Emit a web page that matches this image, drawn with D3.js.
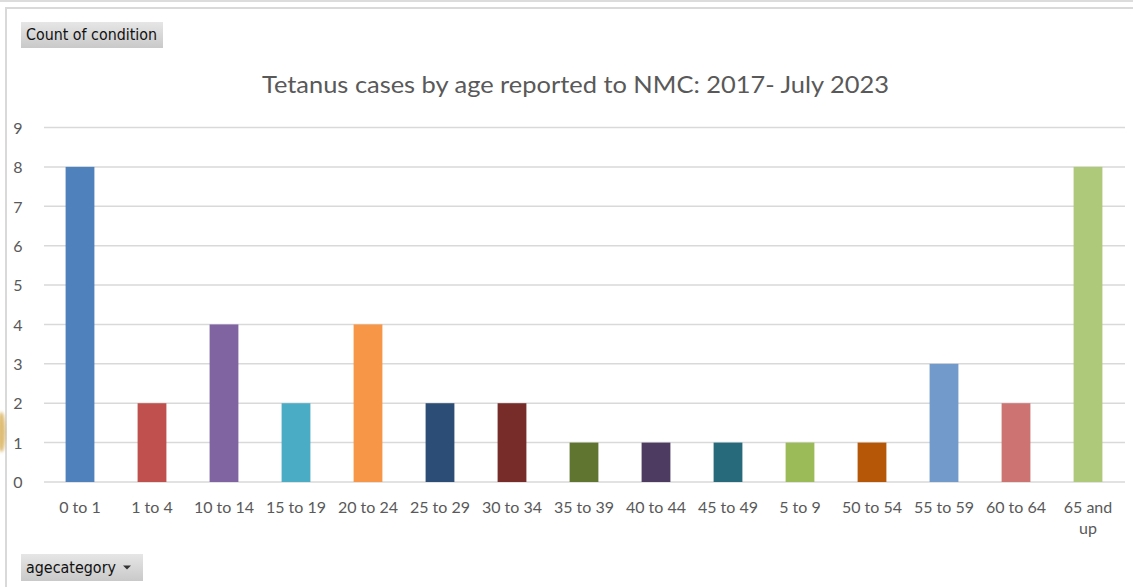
<!DOCTYPE html>
<html>
<head>
<meta charset="utf-8">
<script src="https://cdn.jsdelivr.net/npm/d3@7"></script>
<style>
  html, body { margin: 0; padding: 0; background: #fff; }
  svg { display: block; }
</style>
</head>
<body>
<svg id="chart" width="1133" height="587"></svg>
<script>
// Age groups in pivot order, case counts, and the fill of each column
const categories = ["0 to 1", "1 to 4", "10 to 14", "15 to 19", "20 to 24", "25 to 29", "30 to 34",
  "35 to 39", "40 to 44", "45 to 49", "5 to 9", "50 to 54", "55 to 59", "60 to 64", "65 and up"];
const counts = [8, 2, 4, 2, 4, 2, 2, 1, 1, 1, 1, 1, 3, 2, 8];
const colors = ["#4f81bd", "#c0504d", "#8064a2", "#4bacc6", "#f79646", "#2c4d75", "#772c2a",
  "#5f7530", "#4d3b62", "#276a7c", "#9bbb59", "#b65708", "#729aca", "#cd7371", "#afc97a"];
const yTicks = [0, 1, 2, 3, 4, 5, 6, 7, 8, 9];
const titleText = "Tetanus cases by age reported to NMC: 2017- July 2023";

const svg = d3.select("#chart");
const font = "Lato, 'Open Sans', sans-serif";
const textGray = "#595959";

// Outer frame lines
svg.append("rect").attr("x", 0).attr("y", 0).attr("width", 1133).attr("height", 2).attr("fill", "#dcdcdc");
svg.append("rect").attr("x", 5).attr("y", 7).attr("width", 1128).attr("height", 2).attr("fill", "#d9d9d9");
svg.append("rect").attr("x", 5).attr("y", 7).attr("width", 2).attr("height", 580).attr("fill", "#d9d9d9");

// Faint decoration peeking in at the left edge
const defs = svg.append("defs");
defs.append("filter").attr("id", "soft").append("feGaussianBlur").attr("stdDeviation", 1.8);
svg.append("ellipse").attr("cx", 1.5).attr("cy", 432).attr("rx", 4).attr("ry", 20)
  .attr("fill", "#d4a84a").attr("opacity", 0.75).attr("filter", "url(#soft)");

// Scales
const x = d3.scaleBand().domain(categories).range([44, 1124]).paddingInner(0.6).paddingOuter(0.3);
const y = d3.scaleLinear().domain([0, 9]).range([482, 127.5]);

// Horizontal gridlines
svg.append("g").selectAll("line").data(yTicks).join("line")
  .attr("x1", 44).attr("x2", 1125)
  .attr("y1", d => y(d)).attr("y2", d => y(d))
  .attr("stroke", "#d9d9d9").attr("stroke-width", 1.5);

// Y axis labels
const yAxis = svg.append("g").attr("transform", "translate(18,0)")
  .call(d3.axisLeft(y).tickValues(yTicks).tickSize(0).tickPadding(0));
yAxis.select(".domain").remove();
yAxis.selectAll("text")
  .style("fill", textGray).style("font-family", font).style("font-size", "16px")
  .attr("text-anchor", "middle").attr("x", 0).attr("dy", "0.36em");

// Columns
svg.append("g").selectAll("rect").data(categories).join("rect")
  .attr("x", d => x(d))
  .attr("width", x.bandwidth())
  .attr("y", (d, i) => y(counts[i]))
  .attr("height", (d, i) => y(0) - y(counts[i]))
  .attr("fill", (d, i) => colors[i]);

// X axis labels (long labels wrap onto two lines)
const xAxis = svg.append("g").attr("transform", "translate(0,482)")
  .call(d3.axisBottom(x).tickSize(0).tickPadding(0));
xAxis.select(".domain").remove();
xAxis.selectAll("text").each(function (d) {
  const t = d3.select(this).text("")
    .style("fill", textGray).style("font-family", font).style("font-size", "16px")
    .attr("y", 31).attr("dy", 0);
  const lines = d === "65 and up" ? ["65 and", "up"] : [d];
  lines.forEach((ln, k) => {
    t.append("tspan").attr("x", 0).attr("dy", k === 0 ? 0 : 21).text(ln);
  });
});

// Title
svg.append("text").attr("x", 575.5).attr("y", 93)
  .attr("text-anchor", "middle")
  .style("fill", textGray).style("font-family", font).style("font-size", "24px")
  .attr("textLength", 627).attr("lengthAdjust", "spacingAndGlyphs")
  .text(titleText);

// Pivot field buttons
const grad = defs.append("linearGradient").attr("id", "btn").attr("x1", 0).attr("y1", 0).attr("x2", 0).attr("y2", 1);
grad.append("stop").attr("offset", "0%").attr("stop-color", "#e6e6e6");
grad.append("stop").attr("offset", "100%").attr("stop-color", "#c9c9c9");

function button(bx, by, w, h, label, arrow) {
  const g = svg.append("g");
  g.append("rect").attr("x", bx).attr("y", by).attr("width", w).attr("height", h).attr("fill", "url(#btn)");
  g.append("text").attr("x", bx + 5).attr("y", by + h / 2 + 5)
    .style("font-family", "'DejaVu Sans', sans-serif").style("font-size", "15px").style("fill", "#111")
    .attr("textLength", arrow ? 90 : 131).attr("lengthAdjust", "spacingAndGlyphs")
    .text(label);
  if (arrow) {
    const ax = bx + w - 16, ay = by + h / 2 - 2;
    g.append("path").attr("d", `M${ax - 4},${ay} L${ax + 4},${ay} L${ax},${ay + 4} Z`).attr("fill", "#333");
  }
}
button(21, 22, 142, 26, "Count of condition", false);
button(21, 554, 122, 27, "agecategory", true);
</script>
</body>
</html>
